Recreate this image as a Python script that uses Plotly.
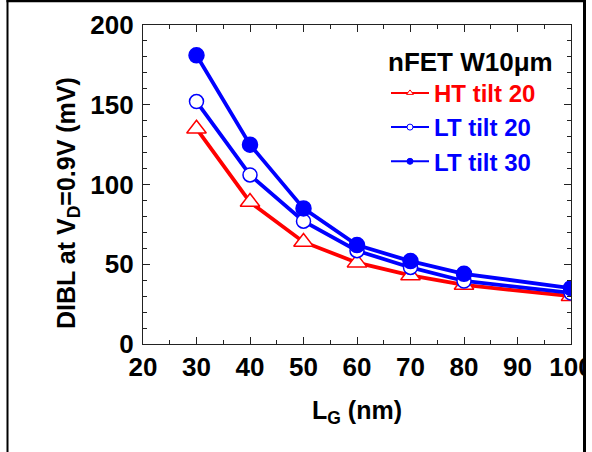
import plotly.graph_objects as go

# Gate length (nm) and DIBL (mV) for each implant condition
L_G = [30, 40, 50, 60, 70, 80, 100]
ht_tilt20 = [135, 89, 64, 51, 43, 37, 30]
lt_tilt20 = [152, 106, 77, 58.5, 48, 39.5, 32]
lt_tilt30 = [181, 125, 85, 62, 52, 44, 35]

series_names = ["HT tilt 20", "LT tilt 20", "LT tilt 30"]
x_ticks = [20, 30, 40, 50, 60, 70, 80, 90, 100]
y_ticks = [0, 50, 100, 150, 200]

RED = "#ff0000"
BLUE = "#0000ff"
FONT = "Liberation Sans, Arial, sans-serif"

W, H = 592, 452
L_M, R_M, T_M, B_M = 143, 21, 25, 108
PW, PH = W - L_M - R_M, H - T_M - B_M


def px(x):
    return (x - L_M) / PW


def py(y):
    return (H - B_M - y) / PH


styles = [
    dict(color=RED, symbol="triangle-up", size=17, fill="white"),
    dict(color=BLUE, symbol="circle", size=14, fill="white"),
    dict(color=BLUE, symbol="circle", size=15, fill=BLUE),
]
values = [ht_tilt20, lt_tilt20, lt_tilt30]

fig = go.Figure()
for name, vals, st in zip(series_names, values, styles):
    fig.add_trace(go.Scatter(
        x=L_G, y=vals, mode="lines+markers", showlegend=False,
        line=dict(color=st["color"], width=3.8),
        marker=dict(symbol=st["symbol"], size=st["size"], color=st["fill"],
                    line=dict(color=st["color"], width=1.5)),
    ))

# compact legend entries with small symbols
for name, st in zip(series_names, styles):
    fig.add_trace(go.Scatter(
        x=[None], y=[None], mode="lines+markers",
        name=f"<span style='color:{st['color']}'>{name}</span>",
        line=dict(color=st["color"], width=2),
        marker=dict(symbol=st["symbol"], size=6, color=st["fill"],
                    line=dict(color=st["color"], width=1)),
    ))

axis_common = dict(
    showline=True, linecolor="#222", linewidth=1.2, mirror="ticks",
    ticks="inside", ticklen=7, tickwidth=1.2, tickcolor="#222",
    showgrid=False, zeroline=False, ticklabeloverflow="allow",
    tickfont=dict(family=FONT, size=26, color="black", weight="bold"),
)

fig.update_xaxes(range=[20, 100], tickvals=x_ticks,
                 minor=dict(dtick=5, ticks="inside", ticklen=4, tickcolor="#222"),
                 **axis_common)
fig.update_yaxes(range=[0, 200], tickvals=y_ticks, ticklabelstandoff=3,
                 minor=dict(dtick=10, ticks="inside", ticklen=4, tickcolor="#222"),
                 **axis_common)

fig.add_annotation(
    text="DIBL at V<sub>D</sub>=0.9V (mV)", textangle=-90,
    xref="paper", yref="paper", x=px(68), y=py(203),
    xanchor="center", yanchor="middle", showarrow=False,
    font=dict(family=FONT, size=25, color="black", weight="bold"),
)
fig.add_annotation(
    text="L<sub>G</sub> (nm)",
    xref="paper", yref="paper", x=0.5, y=py(412),
    xanchor="center", yanchor="middle", showarrow=False,
    font=dict(family=FONT, size=25, color="black", weight="bold"),
)

# outer frame, with the right edge trimmed
fig.add_shape(type="rect", xref="paper", yref="paper", layer="above",
              x0=px(586), x1=px(600), y0=py(460), y1=py(-10),
              fillcolor="white", line=dict(width=0))
fig.add_shape(type="line", xref="paper", yref="paper", layer="above",
              x0=px(7.5), x1=px(7.5), y0=py(0), y1=py(452),
              line=dict(color="black", width=2))
fig.add_shape(type="line", xref="paper", yref="paper", layer="above",
              x0=px(6.5), x1=px(586), y0=py(1), y1=py(1),
              line=dict(color="black", width=2.5))
fig.add_shape(type="line", xref="paper", yref="paper", layer="above",
              x0=px(584.5), x1=px(584.5), y0=py(0), y1=py(452),
              line=dict(color="black", width=3))

fig.update_layout(
    width=W, height=H,
    margin=dict(l=L_M, r=R_M, t=T_M, b=B_M, autoexpand=False),
    paper_bgcolor="white", plot_bgcolor="white",
    legend=dict(
        x=px(386), y=py(37), xanchor="left", yanchor="top",
        bgcolor="rgba(0,0,0,0)", borderwidth=0, itemwidth=38,
        tracegroupgap=0,
        font=dict(family=FONT, size=24, weight="bold"),
        title=dict(text="nFET W10\u03bcm",
                   font=dict(family=FONT, size=26, color="black", weight="bold")),
    ),
)

fig.write_html("out.html")
